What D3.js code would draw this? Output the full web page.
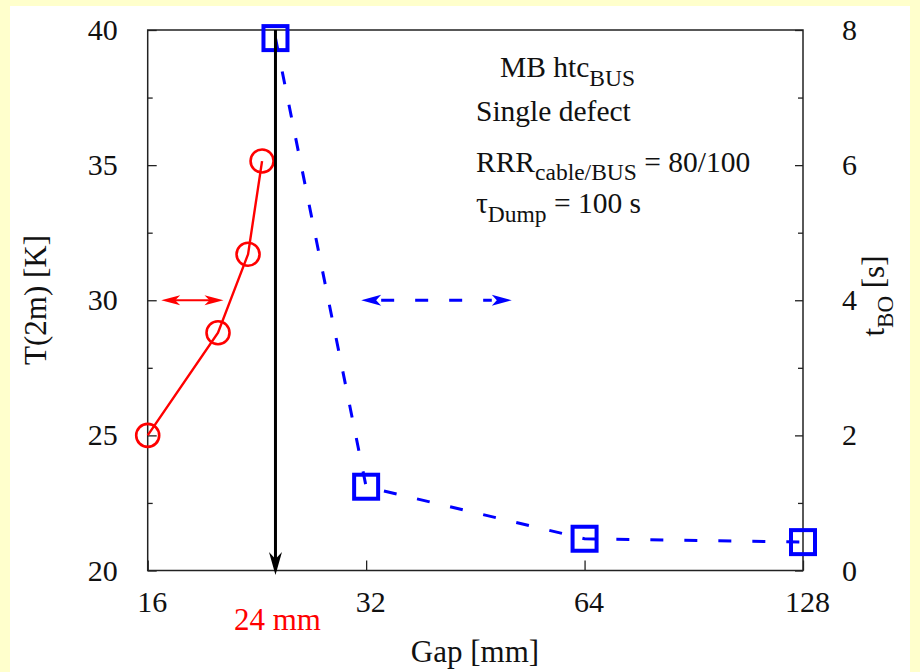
<!DOCTYPE html>
<html><head><meta charset="utf-8">
<script src="https://cdn.jsdelivr.net/npm/d3@7"></script>
<style>body{margin:0;background:#ffffcc;} text{font-family:"Liberation Serif","Times New Roman",serif;}</style>
</head><body>
<svg id="c" width="920" height="672"></svg>
<script>
// ---- data ----
const gapTicks = [16, 32, 64, 128];
const leftMajor = [20, 25, 30, 35, 40];
const leftMinor = [22.5, 27.5, 32.5, 37.5];
const rightMajor = [0, 2, 4, 6, 8];
const rightMinor = [1, 3, 5, 7];
const tempGap = [16, 20, 22, 23];
const tempVal = [25, 28.8, 31.7, 35.15];
const tboGap = [24, 32, 64, 128];
const tboVal = [7.88, 1.24, 0.47, 0.42];
const markGap = 24;              // vertical black arrow
const redArrowGap = [16.7, 20.35]; // red double arrow at T=30
const blueArrowGap = [31.5, 50.8]; // blue double arrow at T=30
const arrowT = 30;

const svg = d3.select("#c");
svg.append("rect").attr("x",0).attr("y",0).attr("width",920).attr("height",672).attr("fill","#ffffcc");
svg.append("rect").attr("x",10).attr("y",6).attr("width",900).attr("height",666).attr("fill","#ffffff");

const L = 147.7, R = 803, T = 30, B = 570.5;
const x = d3.scaleLog().base(2).domain([16,128]).range([L,R]);
const yL = d3.scaleLinear().domain([20,40]).range([B,T]);
const yR = d3.scaleLinear().domain([0,8]).range([B,T]);

const fs = 30;

// axes (ticks inward)
function styleAxis(g){ g.select(".domain").remove(); g.selectAll(".tick line").attr("stroke","#222").attr("stroke-width",1.3); g.selectAll("text").attr("font-family","Liberation Serif").attr("font-size",fs).attr("fill","#111"); }
svg.append("g").attr("transform",`translate(${L},0)`).call(d3.axisLeft(yL).tickValues(leftMajor).tickSize(-9).tickPadding(30).tickFormat(d3.format("d"))).call(styleAxis);
svg.append("g").attr("transform",`translate(${L},0)`).call(d3.axisLeft(yL).tickValues(leftMinor).tickSize(-5).tickFormat("")).call(styleAxis);
svg.append("g").attr("transform",`translate(${R},0)`).call(d3.axisRight(yR).tickValues(rightMajor).tickSize(-8).tickPadding(39).tickFormat(d3.format("d"))).call(styleAxis);
svg.append("g").attr("transform",`translate(${R},0)`).call(d3.axisRight(yR).tickValues(rightMinor).tickSize(-5).tickFormat("")).call(styleAxis);
const xa = svg.append("g").attr("transform",`translate(0,${B})`).call(d3.axisBottom(x).tickValues(gapTicks).tickSize(-10).tickPadding(20).tickFormat(d3.format("d"))).call(styleAxis);
xa.selectAll("text").attr("dx",4);

// frame
svg.append("rect").attr("x",L).attr("y",T).attr("width",R-L).attr("height",B-T).attr("fill","none").attr("stroke","#222").attr("stroke-width",1.5);

// arrowhead helper: stealth pointing at (tx,ty) in direction angle a
function head(tx,ty,a,len,hw,notch,color){
  const c=Math.cos(a), s=Math.sin(a);
  const pt=(u,v)=>[tx - u*c - v*(-s), ty - u*s - v*c];
  const p=[[tx,ty],pt(len,hw),pt(len-notch,0),pt(len,-hw)];
  svg.append("path").attr("d","M"+p.map(q=>q.join(",")).join("L")+"Z").attr("fill",color).attr("stroke","none");
}

// red series
const lineL = d3.line().x((d,i)=>x(tempGap[i])).y((d,i)=>yL(tempVal[i]));
svg.append("path").datum(tempVal).attr("d",lineL).attr("fill","none").attr("stroke","#ff0000").attr("stroke-width",2.4);
svg.selectAll(".circ").data(tempVal).enter().append("circle")
  .attr("cx",(d,i)=>x(tempGap[i])).attr("cy",d=>yL(d)).attr("r",11.5)
  .attr("fill","none").attr("stroke","#ff0000").attr("stroke-width",2.6);

// blue series
const lineR = d3.line().x((d,i)=>x(tboGap[i])).y((d,i)=>yR(tboVal[i]));
svg.append("path").datum(tboVal).attr("d",lineR).attr("fill","none").attr("stroke","#0000ff").attr("stroke-width",3).attr("stroke-dasharray","13,21");
svg.selectAll(".sq").data(tboVal).enter().append("rect")
  .attr("x",(d,i)=>x(tboGap[i])-12).attr("y",d=>yR(d)-12).attr("width",24).attr("height",24)
  .attr("fill","none").attr("stroke","#0000ff").attr("stroke-width",4);

// vertical black arrow
const mx = x(markGap);
svg.append("line").attr("x1",mx).attr("x2",mx).attr("y1",T).attr("y2",B-10).attr("stroke","#000").attr("stroke-width",3);
head(mx, B+4.5, Math.PI/2, 23, 6.5, 7, "#000");

// red double arrow
const ay = yL(arrowT);
const rx0 = x(redArrowGap[0]), rx1 = x(redArrowGap[1]);
svg.append("line").attr("x1",rx0+8).attr("x2",rx1-8).attr("y1",ay).attr("y2",ay).attr("stroke","#ff0000").attr("stroke-width",2.2);
head(rx0, ay, Math.PI, 19, 5, 5, "#ff0000");
head(rx1, ay, 0, 19, 5, 5, "#ff0000");

// blue dashed double arrow
const bx0 = x(blueArrowGap[0]), bx1 = x(blueArrowGap[1]);
svg.append("line").attr("x1",bx0+20).attr("x2",bx1-20).attr("y1",ay).attr("y2",ay).attr("stroke","#0000ff").attr("stroke-width",3).attr("stroke-dasharray","13,21").attr("stroke-dashoffset",0);
head(bx0, ay, Math.PI, 20, 5.5, 5, "#0000ff");
head(bx1, ay, 0, 20, 5.5, 5, "#0000ff");

// annotation text
const afs = 29.5, sfs = 23.5;
function sub(t, main, s, extra){
  t.append("tspan").text(main);
  t.append("tspan").attr("font-size",sfs).attr("dy",8.5).text(s);
  if(extra) t.append("tspan").attr("dy",-8.5).text(extra);
}
let t1 = svg.append("text").attr("x",500).attr("y",77).attr("font-size",afs).attr("fill","#111");
sub(t1,"MB htc","BUS");
svg.append("text").attr("x",476).attr("y",121).attr("font-size",afs).attr("fill","#111").text("Single defect");
let t3 = svg.append("text").attr("x",476).attr("y",171.5).attr("font-size",afs).attr("fill","#111");
sub(t3,"RRR","cable/BUS"," = 80/100");
let t4 = svg.append("text").attr("x",476).attr("y",213).attr("font-size",afs).attr("fill","#111");
sub(t4,"\u03C4","Dump"," = 100 s");

// axis titles
svg.append("text").attr("x",475).attr("y",662).attr("text-anchor","middle").attr("font-size",31).attr("fill","#111").text("Gap [mm]");
svg.append("text").attr("transform","translate(46,300) rotate(-90)").attr("text-anchor","middle").attr("font-size",31).attr("fill","#111").text("T(2m) [K]");
let tr = svg.append("text").attr("transform","translate(884,296) rotate(-90)").attr("text-anchor","middle").attr("font-size",31).attr("fill","#111");
tr.append("tspan").text("t");
tr.append("tspan").attr("font-size",23).attr("dy",9).text("BO");
tr.append("tspan").attr("dy",-9).text(" [s]");
svg.append("text").attr("x",x(markGap)+2).attr("y",630).attr("text-anchor","middle").attr("font-size",31).attr("fill","#ff0000").text("24 mm");
</script>
</body></html>
